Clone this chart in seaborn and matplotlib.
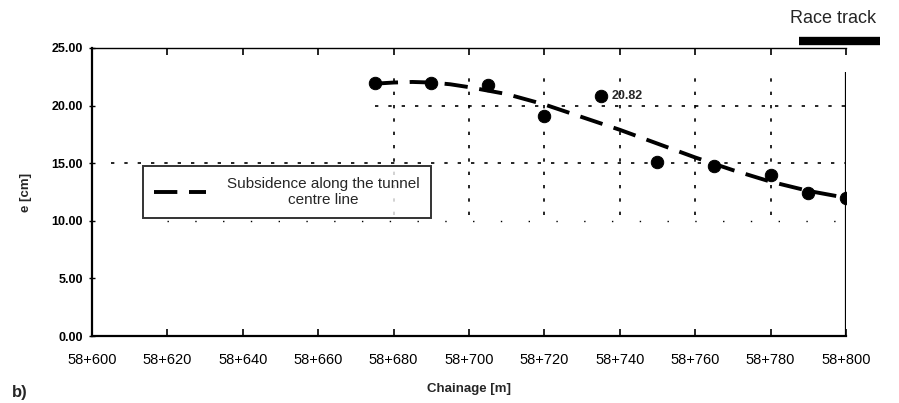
import numpy as np
import pandas as pd
import seaborn as sns
import matplotlib
matplotlib.use("Agg")
import matplotlib.pyplot as plt
from matplotlib.lines import Line2D

# measured points (chainage offset from 58+000, subsidence cm)
pt_chainage = [675, 690, 705, 720, 735, 750, 765, 780, 790, 800]
pt_subsidence = [22.0, 22.0, 21.8, 19.1, 20.82, 15.1, 14.8, 14.0, 12.4, 12.0]

# trend line (subsidence along the tunnel centre line)
tr_chainage = [675, 680, 685, 690, 695, 700, 710, 720, 730, 740, 750, 760, 770, 780, 790, 800]
tr_subsidence = [21.9, 22.0, 22.05, 22.0, 21.85, 21.6, 21.0, 20.1, 19.0, 17.9, 16.7, 15.5, 14.4, 13.4, 12.6, 12.0]

xticks = [600, 620, 640, 660, 680, 700, 720, 740, 760, 780, 800]
xtick_labels = [f"58+{v}" for v in xticks]
yticks = [0, 5, 10, 15, 20, 25]
ytick_labels = [f"{v:.2f}" for v in yticks]

sns.set_theme(style="white")
plt.rcParams['font.family'] = ['Liberation Sans', 'DejaVu Sans']

fig = plt.figure(figsize=(8.99, 4.03), dpi=100)
ax = fig.add_axes([0.1023, 0.166, 0.8387, 0.715])

# dotted grid fragments
ax.hlines([20], 675, 800, colors="black", linestyles=(0, (2, 6)), linewidth=1.2)
ax.hlines([15], 605, 800, colors="black", linestyles=(0, (2, 6)), linewidth=1.2)
ax.hlines([10], 620, 800, colors="black", linestyles=(0, (1, 19)), linewidth=1.0)
ax.vlines([680, 700, 720, 740, 760, 780], 10.5, 23.0, colors="black",
          linestyles=(0, (2, 6)), linewidth=1.2)
# vertical line at race-track boundary
ax.vlines([800], 0, 22.9, colors="black", linewidth=1.6)

df_tr = pd.DataFrame({"c": tr_chainage, "s": tr_subsidence})
sns.lineplot(data=df_tr, x="c", y="s", ax=ax, color="black", linewidth=2.8,
             linestyle=(0, (6, 3)), sort=True)
df_pt = pd.DataFrame({"c": pt_chainage, "s": pt_subsidence})
sns.scatterplot(data=df_pt, x="c", y="s", ax=ax, color="black", s=80,
                edgecolor="black", zorder=5)
ax.annotate(f"{pt_subsidence[4]:.2f}", (pt_chainage[4], pt_subsidence[4]),
            xytext=(8, 0), textcoords="offset points", va="center",
            fontsize=9, fontweight="bold")

ax.set_xlim(600, 800)
ax.set_ylim(0, 25)
ax.set_xticks(xticks)
ax.set_xticklabels(xtick_labels, fontsize=10.5)
ax.set_yticks(yticks)
ax.set_yticklabels(ytick_labels, fontsize=9, fontweight="bold")
ax.tick_params(axis="x", direction="in", length=5, width=1.2, pad=12, colors="black",
               top=True, bottom=True)
ax.tick_params(axis="y", direction="inout", length=5, width=1.0, pad=4, colors="black",
               left=True)

ax.spines["right"].set_visible(False)
ax.spines["left"].set_linewidth(1.6)
ax.spines["bottom"].set_linewidth(1.6)
ax.spines["top"].set_linewidth(1.0)
for s in ax.spines.values():
    s.set_color("black")

ax.set_xlabel("Chainage [m]", fontsize=9.5, fontweight="bold", labelpad=12)
ax.set_ylabel("e [cm]", fontsize=9.5, fontweight="bold", labelpad=14)

handle = Line2D([], [], color="black", linewidth=2.8, linestyle=(0, (6, 3)))
leg = ax.legend([handle], ["Subsidence along the tunnel\ncentre line"],
                loc="upper left", bbox_to_anchor=(0.068, 0.59), fontsize=11,
                frameon=True, fancybox=False, handlelength=3.4, borderpad=0.7,
                labelspacing=0.15, handletextpad=1.4, borderaxespad=0)
leg.get_frame().set_edgecolor("black")
leg.get_frame().set_linewidth(1.4)
for t in leg.get_texts():
    t.set_ha("center")

fig.text(0.879, 0.955, "Race track", fontsize=13, ha="left", va="center")
fig.add_artist(Line2D([0.889, 0.979], [0.898, 0.898], color="black", linewidth=6,
                     solid_capstyle="butt", transform=fig.transFigure))
fig.text(0.013, 0.025, "b)", fontsize=12, fontweight="bold", ha="left", va="center")

fig.savefig("out.png", dpi=100)
